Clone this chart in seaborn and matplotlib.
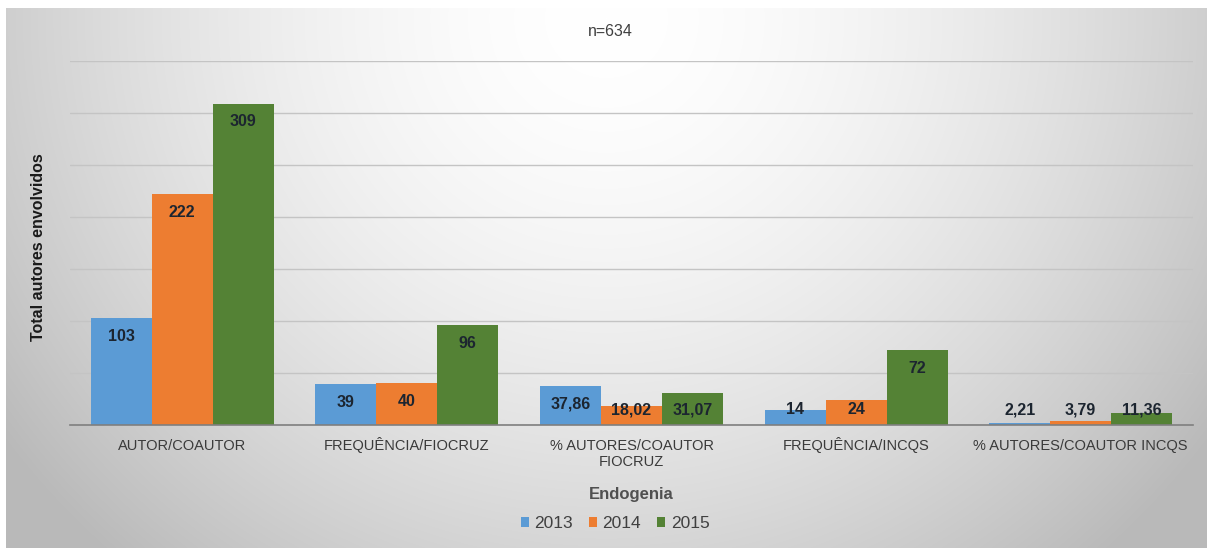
import numpy as np
import pandas as pd
import matplotlib
matplotlib.use("Agg")
import matplotlib.pyplot as plt
import seaborn as sns

categories = ["AUTOR/COAUTOR", "FREQUÊNCIA/FIOCRUZ", "% AUTORES/COAUTOR\nFIOCRUZ",
              "FREQUÊNCIA/INCQS", "% AUTORES/COAUTOR INCQS"]
years = ["2013", "2014", "2015"]
values_2013 = [103, 39, 37.86, 14, 2.21]
values_2014 = [222, 40, 18.02, 24, 3.79]
values_2015 = [309, 96, 31.07, 72, 11.36]
colors = ["#5B9BD5", "#ED7D31", "#548235"]

rows = []
for year, vals in zip(years, [values_2013, values_2014, values_2015]):
    for cat, v in zip(categories, vals):
        rows.append({"Endogenia": cat, "Ano": year, "valor": v})
df = pd.DataFrame(rows)

sns.set_theme(style="white")
plt.rcParams["font.family"] = ["Liberation Sans", "DejaVu Sans"]

W, H = 1211, 550
fig = plt.figure(figsize=(W / 100, H / 100), dpi=100)
fig.patch.set_facecolor("white")

# radial gray gradient behind the chart
bg = fig.add_axes([6 / W, 2 / H, 1201 / W, 540 / H])
yy, xx = np.mgrid[0:540, 0:1201]
dx = (xx - 600) / 620.0
dy = (yy - 10) / 600.0
r = np.sqrt(dx ** 2 + dy ** 2)
shade = 1.0 - 0.2 * np.clip(r, 0, 1.2) ** 1.7
bg.imshow(np.dstack([shade] * 3), aspect="auto", interpolation="bilinear")
bg.set_axis_off()

ax = fig.add_axes([70 / W, 1 - 425 / H, (1193 - 70) / W, (425 - 61) / H])
ax.patch.set_alpha(0)

sns.barplot(data=df, x="Endogenia", y="valor", hue="Ano", palette=colors,
            width=0.815, ax=ax, saturation=1, legend=True, linewidth=0)

ax.set_ylim(0, 350)
ax.set_yticks(np.arange(0, 351, 50))
ax.yaxis.grid(True, color="#c4c4c4", linewidth=1.0)
ax.set_axisbelow(True)
ax.tick_params(axis="y", left=False, labelleft=False)

# category labels: every label gets two lines so first lines share a baseline
ax.set_xticks(range(len(categories)))
ax.set_xticklabels([c if "\n" in c else c + "\n " for c in categories])
ax.tick_params(axis="x", bottom=False, length=0, labelsize=10.5, colors="#3a3a3a", pad=29.8)
for t in ax.get_xticklabels():
    t.set_verticalalignment("baseline")
for s in ["top", "right", "left"]:
    ax.spines[s].set_visible(False)
ax.spines["bottom"].set_color("#7f7f7f")
ax.spines["bottom"].set_linewidth(1.2)
ax.set_xlim(-0.5, len(categories) - 0.5)

for cont, year, vals in zip(ax.containers, years, [values_2013, values_2014, values_2015]):
    for bar, v in zip(cont, vals):
        txt = f"{v:.2f}".replace(".", ",") if v != int(v) else f"{int(v)}"
        ypos = max(v - 17.5, 14.5)
        ax.text(bar.get_x() + bar.get_width() / 2, ypos, txt, ha="center", va="center",
                fontsize=11.5, fontweight="bold", color="#1c2530")

ax.set_xlabel("Endogenia", fontsize=12, fontweight="bold", color="#505050")
ax.xaxis.set_label_coords(0.5, -(487 - 425) / (425 - 61))
ax.set_ylabel("Total autores envolvidos", fontsize=11.5, fontweight="bold", color="#1a1a1a")
ax.yaxis.set_label_coords(-(70 - 46) / (1193 - 70), 0.49)

fig.text(610 / W, 1 - 31 / H, "n=634", ha="center", va="center", fontsize=11.5, color="#404040")

handles, labels = ax.get_legend_handles_labels()
ax.legend_.remove()
fig.legend(handles, labels, loc="center", bbox_to_anchor=(615 / W, 1 - 524 / H), ncol=3,
           frameon=False, fontsize=12.5, handlelength=0.5, handleheight=0.5,
           handletextpad=0.3, columnspacing=0.9, labelcolor="#404040")

fig.savefig("out.png", dpi=100)
